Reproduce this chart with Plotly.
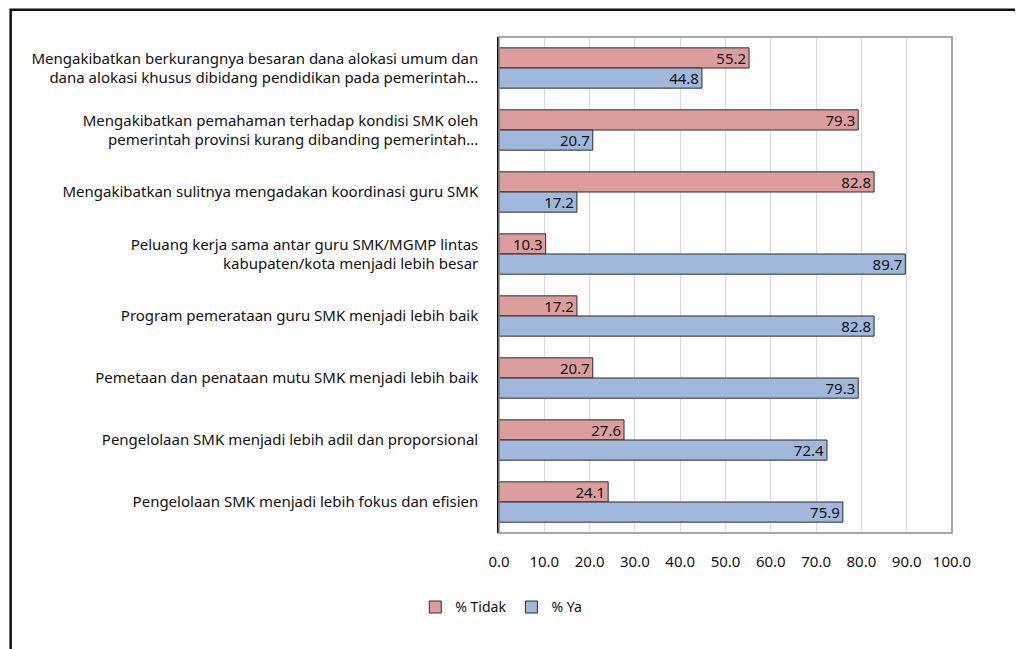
import plotly.graph_objects as go

categories = [
    "Mengakibatkan berkurangnya besaran dana alokasi umum dan<br>dana alokasi khusus dibidang pendidikan pada pemerintah...",
    "Mengakibatkan pemahaman terhadap kondisi SMK oleh<br>pemerintah provinsi kurang dibanding pemerintah...",
    "Mengakibatkan sulitnya mengadakan koordinasi guru SMK",
    "Peluang kerja sama antar guru SMK/MGMP lintas<br>kabupaten/kota menjadi lebih besar",
    "Program pemerataan guru SMK menjadi lebih baik",
    "Pemetaan dan penataan mutu SMK menjadi lebih baik",
    "Pengelolaan SMK menjadi lebih adil dan proporsional",
    "Pengelolaan SMK menjadi lebih fokus dan efisien",
]
tidak = [55.2, 79.3, 82.8, 10.3, 17.2, 20.7, 27.6, 24.1]
ya = [44.8, 20.7, 17.2, 89.7, 82.8, 79.3, 72.4, 75.9]
xticks = [0, 10, 20, 30, 40, 50, 60, 70, 80, 90, 100]

FONT = "Noto Sans"
fig = go.Figure()
fig.add_trace(go.Bar(
    y=categories, x=tidak, name="% Tidak", orientation="h",
    marker=dict(color="#dc9e9d", line=dict(color="#2b2b2b", width=1)),
    texttemplate="%{x:.1f}", textposition="inside", insidetextanchor="end",
    textfont=dict(size=15, color="#111111", family=FONT),
))
fig.add_trace(go.Bar(
    y=categories, x=ya, name="% Ya", orientation="h",
    marker=dict(color="#9fb8dc", line=dict(color="#2b2b2b", width=1)),
    texttemplate="%{x:.1f}", textposition="inside", insidetextanchor="end",
    textfont=dict(size=15, color="#111111", family=FONT),
))

fig.update_layout(
    width=1023, height=649,
    margin=dict(l=491, r=79, t=29, b=124),
    paper_bgcolor="white", plot_bgcolor="white",
    barmode="group", bargap=0.35, bargroupgap=0,
    font=dict(family=FONT, size=15, color="#111111"),
    hovermode=False,
    uniformtext=dict(mode="show", minsize=15),
    legend=dict(orientation="h", x=0.005, xanchor="center", y=-0.15, yanchor="middle",
                font=dict(size=14, family=FONT), itemwidth=30, traceorder="normal"),
    xaxis=dict(range=[0, 100], tickvals=xticks, tickformat=".1f",
               showgrid=True, gridcolor="#d9d9d9", gridwidth=1, zeroline=False,
               showline=False, ticklabelstandoff=18,
               tickfont=dict(size=15, family=FONT)),
    yaxis=dict(autorange="reversed", showline=True, linecolor="#111", linewidth=1.5,
               ticks="", tickfont=dict(size=15, family=FONT), ticklabelstandoff=16),
    showlegend=True,
)
# plot area border (gray)
fig.add_shape(type="rect", xref="paper", yref="paper", x0=0, x1=1, y0=0, y1=1,
              line=dict(color="#8c8c8c", width=1.5), layer="above")
# outer frame
fig.add_shape(type="rect", xref="paper", yref="paper", x0=-1.078, x1=1.148, y0=-0.3, y1=1.055,
              line=dict(color="#111", width=2.5), layer="above")

fig.write_html("out.html")
